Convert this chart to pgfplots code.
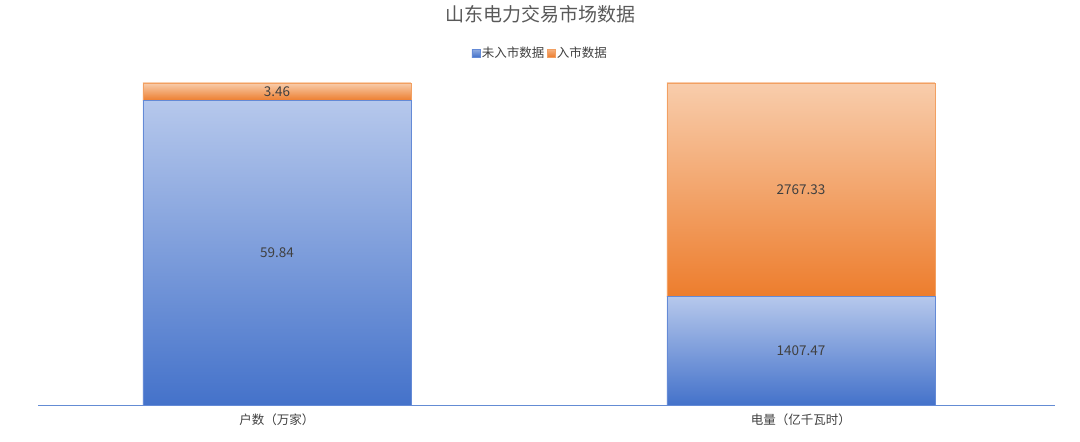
\documentclass[border=0pt]{standalone}
\usepackage{fontspec}
\setmainfont{Noto Sans CJK SC}
\usepackage{pgfplots}
\pgfplotsset{compat=1.18}

\definecolor{bluetop}{RGB}{182,200,236}
\definecolor{bluebot}{RGB}{68,114,202}
\definecolor{blueedge}{RGB}{100,138,214}
\definecolor{orangetop}{RGB}{248,205,172}
\definecolor{orangebot}{RGB}{237,125,45}
\definecolor{orangeedge}{RGB}{242,160,98}
\definecolor{axisblue}{RGB}{100,140,212}
\definecolor{txt}{RGB}{64,64,64}
\definecolor{titlegray}{RGB}{89,89,89}

\begin{document}
\begin{tikzpicture}
\begin{axis}[
    at={(38bp,37bp)}, anchor=south west,
    scale only axis, width=1017bp, height=322bp,
    ybar stacked, bar width=268bp,
    xmin=-0.456, xmax=1.485, ymin=0, ymax=100,
    clip=false,
    hide y axis,
    axis x line*=bottom,
    x axis line style={draw=axisblue, line width=0.9bp},
    xtick={0,1},
    xticklabels={户数（万家）,电量（亿千瓦时）},
    major tick length=0pt,
    xticklabel style={font=\fontsize{12.5bp}{14bp}\selectfont, text=txt, yshift=-5bp},
    title={山东电力交易市场数据},
    title style={at={(0.4936,1.1957)}, anchor=center,
        font=\fontsize{19bp}{22bp}\selectfont, text=titlegray},
    nodes near coords,
    point meta=explicit symbolic,
    every node near coord/.append style={anchor=center,
        font=\fontsize{13.5bp}{15bp}\selectfont, text=txt},
    legend columns=2,
    legend style={at={(0.4936,1.093)}, anchor=center, draw=none, fill=none,
        font=\fontsize{12.5bp}{14bp}\selectfont, text=txt,
        inner sep=0pt, nodes={inner sep=1.5bp},
        /tikz/every even column/.append style={column sep=1bp}},
]
% share of each category in % (y), raw value as label (meta);
% one plot per bar so that each bar gets its own gradient
\addplot[draw=blueedge, line width=0.6bp, top color=bluetop, bottom color=bluebot,
    legend image code/.code={\draw[draw=blueedge, top color=bluetop!70!bluebot, bottom color=bluebot] (0bp,-4bp) rectangle (8bp,4bp);}]
    coordinates {(0,0) [\relax] (1,33.71) [1407.47]};
\addplot[forget plot, draw=blueedge, line width=0.6bp, top color=bluetop, bottom color=bluebot]
    coordinates {(0,94.53) [59.84] (1,0) [\relax]};
\addplot[draw=orangeedge, line width=0.6bp, top color=orangetop, bottom color=orangebot,
    legend image code/.code={\draw[draw=orangeedge, top color=orangetop!70!orangebot, bottom color=orangebot] (0bp,-4bp) rectangle (8bp,4bp);}]
    coordinates {(0,0) [\relax] (1,66.29) [2767.33]};
\addplot[forget plot, draw=orangeedge, line width=0.6bp, top color=orangetop, bottom color=orangebot]
    coordinates {(0,5.47) [3.46] (1,0) [\relax]};
\legend{未入市数据,入市数据}
\end{axis}
\path (0,0) rectangle (1080bp,442bp);
\end{tikzpicture}
\end{document}
